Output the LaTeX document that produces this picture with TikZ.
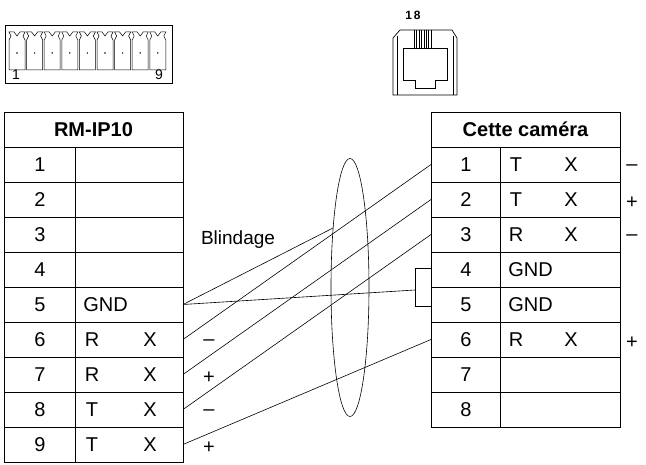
\documentclass[tikz,border=0pt]{standalone}
\usepackage{fontspec}
\setmainfont{Liberation Sans}
\usetikzlibrary{positioning}
\tikzset{
	cell/.style={font=\fontsize{20}{22}\selectfont, inner sep=0pt},
	head/.style={font=\bfseries\fontsize{20}{22}\selectfont, inner sep=0pt},
	wire/.style={line width=.6pt},
}
\begin{document}
\begin{tikzpicture}[x=1pt,y=-1pt,line width=.7pt]
	\useasboundingbox (0,0) rectangle (646,465);
	
	% terminal block
	\draw (5,25) rectangle (172,83);
	\foreach \i in {0,...,8} {
		\pgfmathsetmacro{\xa}{9+\i*17.6}
		\draw[line width=.5pt] (\xa,70) -- (\xa,40) -- (\xa+2,36) -- (\xa,32) -- (\xa+5,32)
			-- (\xa+8,36) -- (\xa+11,32) -- (\xa+16,32) -- (\xa+14,36) -- (\xa+16,40) -- (\xa+16,70) -- cycle;
		\fill (\xa+8,53) circle (.8pt);
	}
	\node[cell, font=\fontsize{14}{15}\selectfont] (p1) at (16,75) {1};
	\node[cell, font=\fontsize{14}{15}\selectfont] (p9) at (159,75) {9};
	
	% RJ45
	\draw (393,95) -- (393,38) -- (400,30) -- (452,30) -- (457,38) -- (457,95) -- cycle;
	\draw[line width=.5pt] (397,36) -- (397,95) (453,36) -- (453,95);
	\foreach \x in {414,416,419,421,424,426,428,431} \draw[line width=1pt] (\x,30) -- (\x,48);
	\draw (403,48) -- (447,48) -- (447,80) -- (435,80) -- (435,88) -- (415,88) -- (415,80) -- (403,80) -- cycle;
	\node[cell, font=\bfseries\fontsize{12}{13}\selectfont] (r18) at (413,15) {1\,8};
	
	% RM-IP10 table
	\draw (4,112) rectangle (183,462);
	\draw (4,147) -- (183,147);
	\draw (75,147) -- (75,462);
	\foreach \i in {2,...,9} \draw (4,147+35*\i-35) -- (183,147+35*\i-35);
	\node[head] (lhead) at (93.5,129.5) {RM-IP10};
	\foreach \i in {1,...,9} {
		\node[cell] (ln\i) at (40,129.5+35*\i) {\i};
		\coordinate (L\i) at (183,129.5+35*\i);
	}
	\node[cell, anchor=west] (lgnd) at (83,304.5) {GND};
	\foreach \i/\a/\b in {6/R/X, 7/R/X, 8/T/X, 9/T/X} {
		\node[cell] (la\i) at (92,129.5+35*\i) {\a};
		\node[cell] (lb\i) at (150,129.5+35*\i) {\b};
	}
	
	% camera table
	\draw (431,112) rectangle (620,427);
	\draw (431,147) -- (620,147);
	\draw (500,147) -- (500,427);
	\foreach \i in {2,...,8} \draw (431,147+35*\i-35) -- (620,147+35*\i-35);
	\node[head] (rhead) at (525.5,129.5) {Cette caméra};
	\foreach \i in {1,...,8} {
		\node[cell] (rn\i) at (466,129.5+35*\i) {\i};
		\coordinate (R\i) at (431,129.5+35*\i);
	}
	\foreach \i/\a/\b/\s in {1/T/X/\textendash, 2/T/X/+, 3/R/X/\textendash, 6/R/X/+} {
		\node[cell] (ra\i) at (516,129.5+35*\i) {\a};
		\node[cell] (rb\i) at (571,129.5+35*\i) {\b};
		\node[cell] (rs\i) at (632,133+35*\i) {\s};
	}
	\node[cell, anchor=west] (rgnd4) at (508,269.5) {GND};
	\node[cell, anchor=west] (rgnd5) at (508,304.5) {GND};
	
	% shield and wires
	\draw[wire] (350,287.5) ellipse (19 and 129);
	\coordinate (shield) at (333,228);
	\draw[wire] (L5) -- (shield);
	\node[cell, font=\fontsize{19}{21}\selectfont] (blind) at (238,240) {Blindage};
	\draw[wire] (415,268) -- (415,306) (415,268) -- (431,268) (415,306) -- (431,306);
	\coordinate (gnd) at (415,290);
	\draw[wire] (L5) -- (gnd);
	\draw[wire] (L6) -- (R1);
	\draw[wire] (L7) -- (R2);
	\draw[wire] (L8) -- (R3);
	\draw[wire] (L9) -- (R6);
	\foreach \i/\s in {6/\textendash, 7/+, 8/\textendash, 9/+}
		\node[cell] (ls\i) at (209,133+35*\i) {\s};
\end{tikzpicture}
\end{document}
